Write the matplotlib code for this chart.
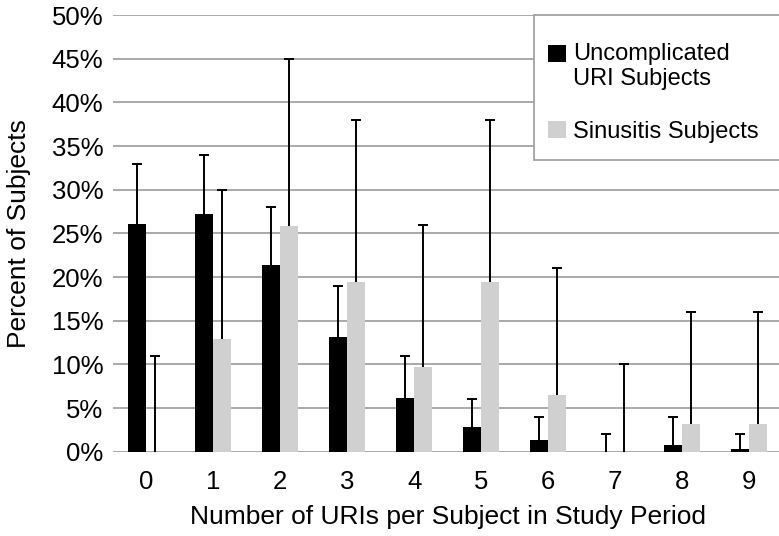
import matplotlib
matplotlib.use("Agg")
import matplotlib.pyplot as plt
import numpy as np
from matplotlib.patches import Rectangle
from matplotlib.legend_handler import HandlerPatch

plt.rcParams['font.family'] = ['Liberation Sans', 'DejaVu Sans']

# data (percent)
categories = ['0', '1', '2', '3', '4', '5', '6', '7', '8', '9']
uri_pct = [26.1, 27.2, 21.4, 13.1, 6.2, 2.8, 1.4, 0.0, 0.8, 0.3]
uri_upper = [33, 34, 28, 19, 11, 6, 4, 2, 4, 2]
sinus_pct = [0.0, 12.9, 25.8, 19.4, 9.7, 19.4, 6.5, 0.0, 3.2, 3.2]
sinus_upper = [11, 30, 45, 38, 26, 38, 21, 10, 16, 16]
y_ticks = [0, 5, 10, 15, 20, 25, 30, 35, 40, 45, 50]

x = np.arange(len(categories))
width = 0.27
grid_col = '#a3a3a3'

fig = plt.figure(figsize=(7.79, 5.36), dpi=100)
ax = fig.add_axes([0.145, 0.157, 0.859, 0.815])

for yv in y_ticks:
    ax.axhline(yv, color=grid_col, lw=1.3, zorder=0)

b1 = ax.bar(x - width / 2, uri_pct, width, color='black', zorder=2)
b2 = ax.bar(x + width / 2, sinus_pct, width, color='#d0d0d0', zorder=2)


def upper_errorbar(xpos, vals, tops):
    err = [np.zeros(len(vals)), np.array(tops) - np.array(vals)]
    _, caps, _ = ax.errorbar(xpos, vals, yerr=err, fmt='none', ecolor='black',
                             elinewidth=1.4, capsize=3.4, capthick=1.4, zorder=3)
    # only keep the upper caps
    for c in caps:
        if np.allclose(c.get_ydata(), vals):
            c.set_visible(False)


upper_errorbar(x - width / 2, uri_pct, uri_upper)
upper_errorbar(x + width / 2, sinus_pct, sinus_upper)

ax.set_xlim(-0.5, 9.5)
ax.set_ylim(0, 50)
ax.set_xticks(x)
ax.set_xticklabels(categories)
ax.set_yticks(y_ticks)
ax.set_yticklabels([f'{v}%' for v in y_ticks])
ax.tick_params(axis='x', length=0, pad=13, labelsize=18.5)
ax.tick_params(axis='y', length=0, pad=7, labelsize=18.5)
for s in ax.spines.values():
    s.set_visible(False)

ax.set_xlabel('Number of URIs per Subject in Study Period', fontsize=19)
ax.set_ylabel('Percent of Subjects', fontsize=19)
ax.xaxis.set_label_coords(0.5, -0.122)
ax.yaxis.set_label_coords(-0.122, 0.5)


class TopHandler(HandlerPatch):
    def __init__(self, shift=0.0):
        super().__init__()
        self.shift = shift

    def create_artists(self, legend, orig_handle, xdescent, ydescent,
                       width, height, fontsize, trans):
        p = Rectangle((-xdescent, -ydescent + self.shift * fontsize), width, height,
                      facecolor=orig_handle.get_facecolor(), edgecolor='none',
                      transform=trans)
        return [p]


# legend frame drawn separately so its padding can differ per side
frame = Rectangle((0.629, 0.668), 0.371, 0.332, transform=ax.transAxes,
                  facecolor='white', edgecolor=grid_col, lw=1.3, zorder=4,
                  clip_on=False)
ax.add_patch(frame)

leg = ax.legend(handles=[b1.patches[0], b2.patches[0]],
                labels=['Uncomplicated\nURI Subjects', 'Sinusitis Subjects'],
                handler_map={b1.patches[0]: TopHandler(0.55), b2.patches[0]: TopHandler(0.0)},
                loc='upper left', bbox_to_anchor=(0.650, 0.937), fontsize=17,
                frameon=False, borderpad=0.0, labelspacing=1.3,
                handlelength=0.76, handleheight=0.76, handletextpad=0.32,
                borderaxespad=0.0)
leg.set_zorder(5)

fig.savefig('out.png', dpi=100)
